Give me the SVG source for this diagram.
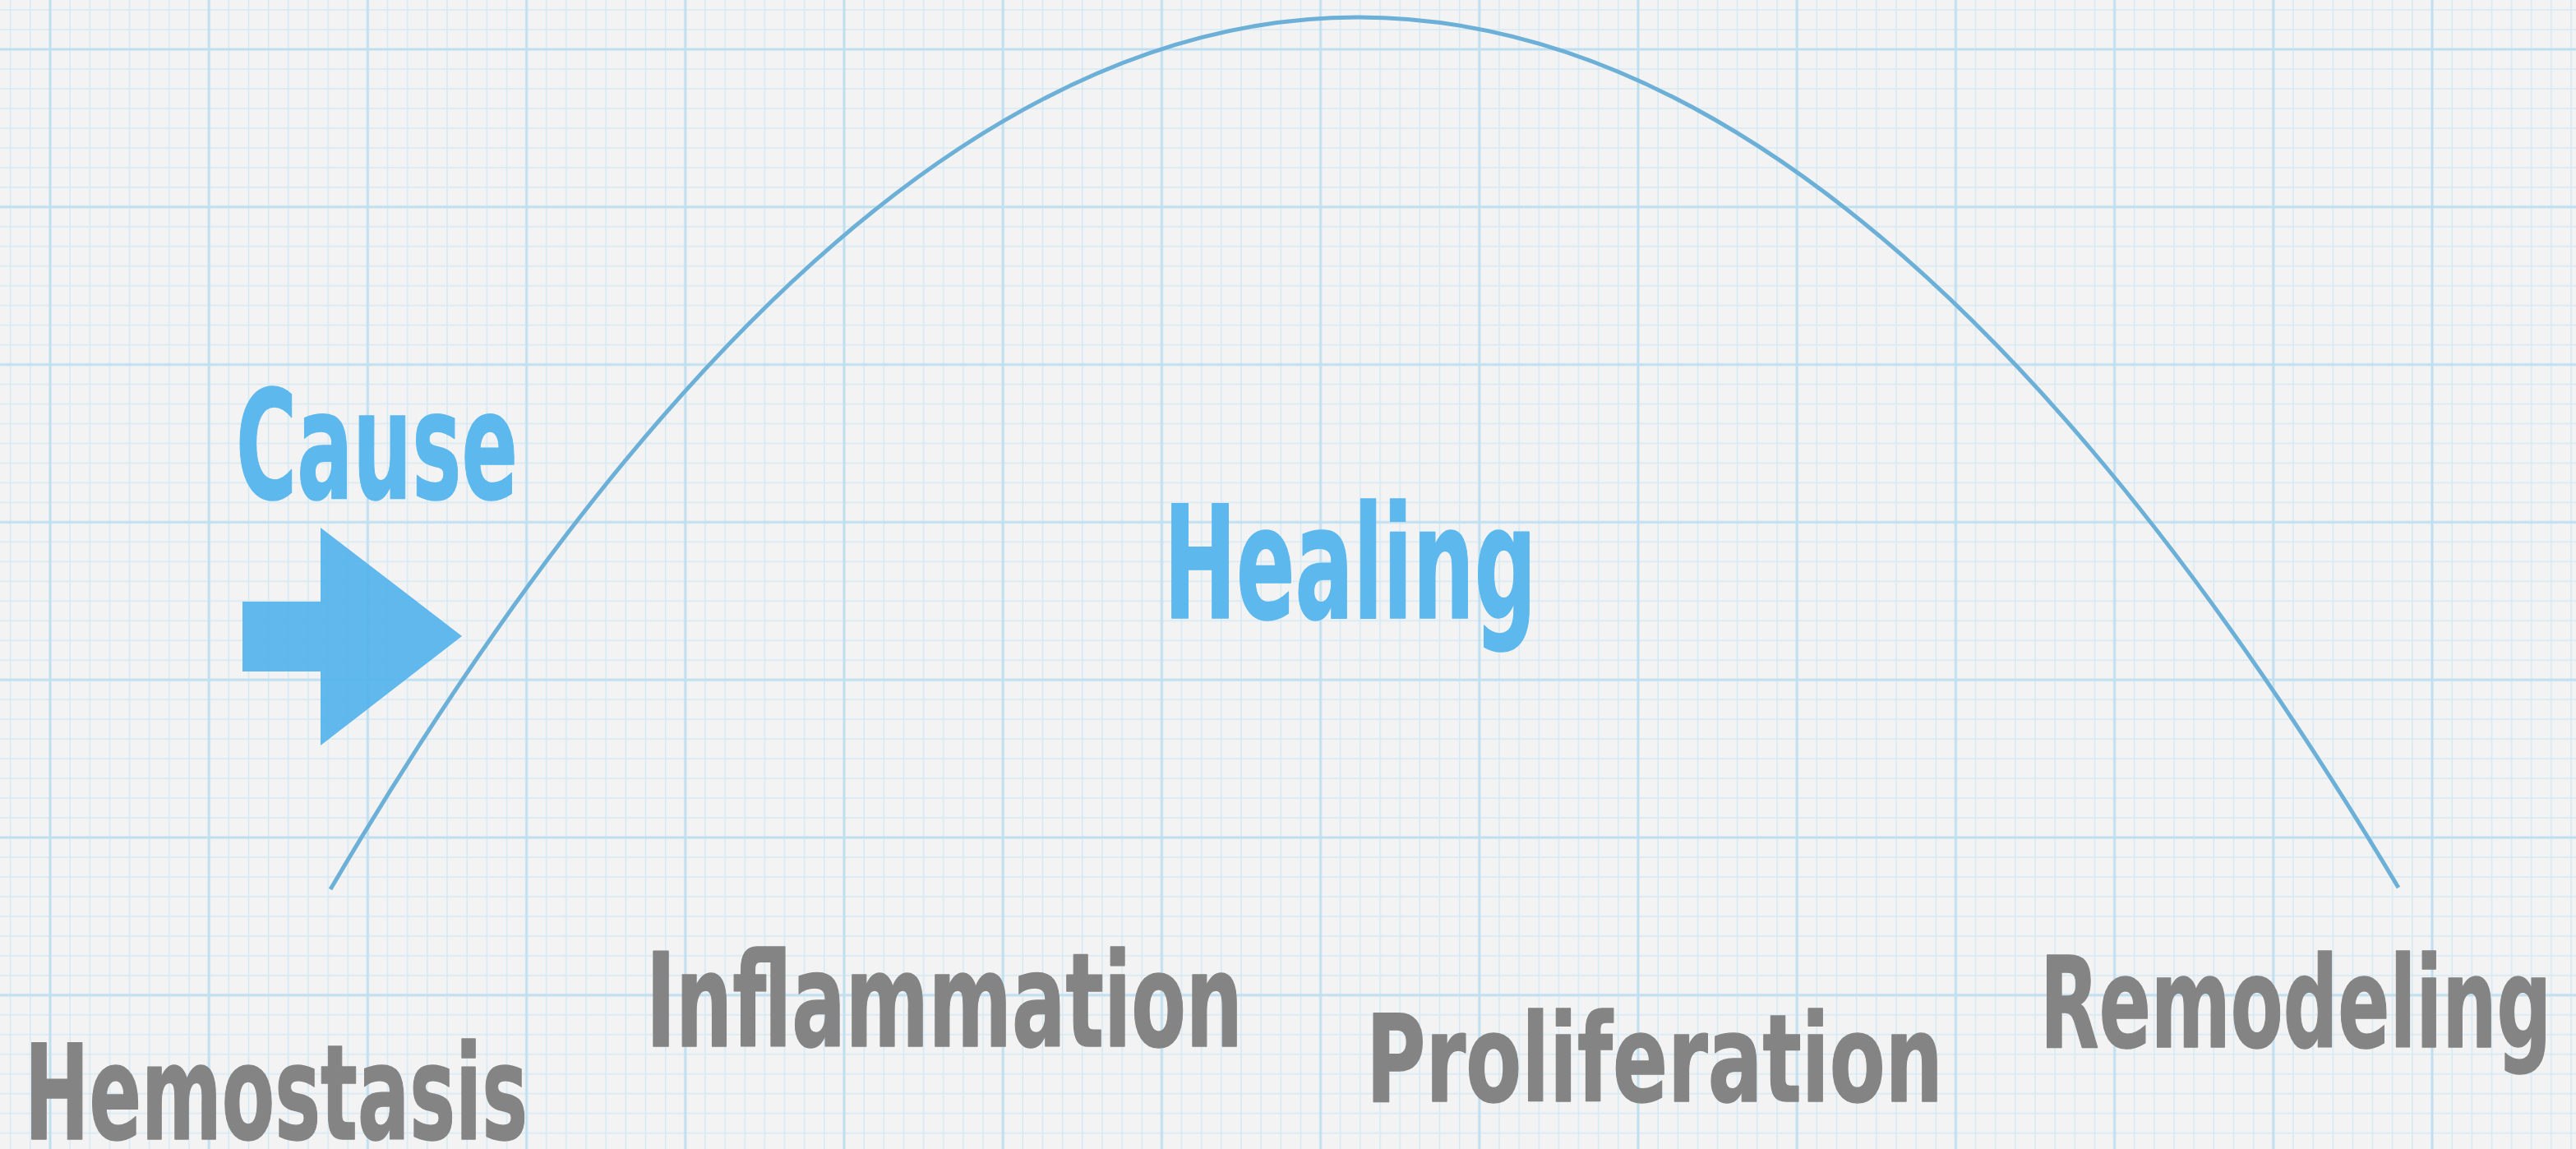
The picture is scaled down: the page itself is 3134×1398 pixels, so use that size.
<svg xmlns="http://www.w3.org/2000/svg" width="3134" height="1398" viewBox="0 0 3134 1398">
  <style>
    .lbl { font-family: "DejaVu Sans Condensed", "Liberation Sans Narrow", "Liberation Sans", sans-serif; font-weight: bold; stroke-width: 1.5; stroke-linejoin: round; }
    .blue { fill: #5cb8ed; stroke: #5cb8ed; }
    .gray { fill: #848484; stroke: #848484; }
    .minor { stroke: #d4e9f4; stroke-width: 1.5; }
    .major { stroke: #bfdff0; stroke-width: 3; }
  </style>
  <defs>
    <pattern id="grid" patternUnits="userSpaceOnUse" x="-35.6" y="-35.9" width="193.2" height="191.8">
      <g class="minor">
        <line x1="0" y1="0" x2="0" y2="191.8"/>
        <line x1="24.15" y1="0" x2="24.15" y2="191.8"/>
        <line x1="48.3" y1="0" x2="48.3" y2="191.8"/>
        <line x1="72.45" y1="0" x2="72.45" y2="191.8"/>
        <line x1="120.75" y1="0" x2="120.75" y2="191.8"/>
        <line x1="144.9" y1="0" x2="144.9" y2="191.8"/>
        <line x1="169.05" y1="0" x2="169.05" y2="191.8"/>
        <line x1="193.2" y1="0" x2="193.2" y2="191.8"/>
        <line x1="0" y1="0" x2="193.2" y2="0"/>
        <line x1="0" y1="23.98" x2="193.2" y2="23.98"/>
        <line x1="0" y1="47.95" x2="193.2" y2="47.95"/>
        <line x1="0" y1="71.93" x2="193.2" y2="71.93"/>
        <line x1="0" y1="119.88" x2="193.2" y2="119.88"/>
        <line x1="0" y1="143.85" x2="193.2" y2="143.85"/>
        <line x1="0" y1="167.83" x2="193.2" y2="167.83"/>
        <line x1="0" y1="191.8" x2="193.2" y2="191.8"/>
      </g>
      <g class="major">
        <line x1="96.6" y1="0" x2="96.6" y2="191.8"/>
        <line x1="0" y1="95.9" x2="193.2" y2="95.9"/>
      </g>
    </pattern>
  </defs>

  <rect id="paper" x="0" y="0" width="3134" height="1398" fill="#f3f3f3"/>
  <rect id="grid-layer" x="0" y="0" width="3134" height="1398" fill="url(#grid)"/>

  <g id="connectors">
    <path id="healing-curve" d="M 402 1082 Q 1027 21 1652 21 Q 2285 21 2918 1080" fill="none" stroke="#6cb0d8" stroke-width="5" stroke-linecap="butt"/>
  </g>

  <g id="cause-arrow">
    <polygon points="295,732 390,732 390,642 562,774 390,907 390,817 295,817" fill="#59b5eb" fill-opacity="0.96"/>
  </g>

  <g id="cause">
    <text class="lbl blue" x="287" y="606" font-size="184" textLength="343" lengthAdjust="spacingAndGlyphs">Cause</text>
  </g>

  <g id="healing">
    <text class="lbl blue" x="1416" y="752" font-size="190" textLength="453" lengthAdjust="spacingAndGlyphs">Healing</text>
  </g>

  <g id="hemostasis">
    <text class="lbl gray" x="30" y="1386" font-size="160" textLength="612" lengthAdjust="spacingAndGlyphs">Hemostasis</text>
  </g>

  <g id="inflammation">
    <text class="lbl gray" x="786" y="1273" font-size="158" textLength="726" lengthAdjust="spacingAndGlyphs">Inflammation</text>
  </g>

  <g id="proliferation">
    <text class="lbl gray" x="1662" y="1340" font-size="148" textLength="702" lengthAdjust="spacingAndGlyphs">Proliferation</text>
  </g>

  <g id="remodeling">
    <text class="lbl gray" x="2482" y="1274" font-size="154" textLength="622" lengthAdjust="spacingAndGlyphs">Remodeling</text>
  </g>
</svg>
